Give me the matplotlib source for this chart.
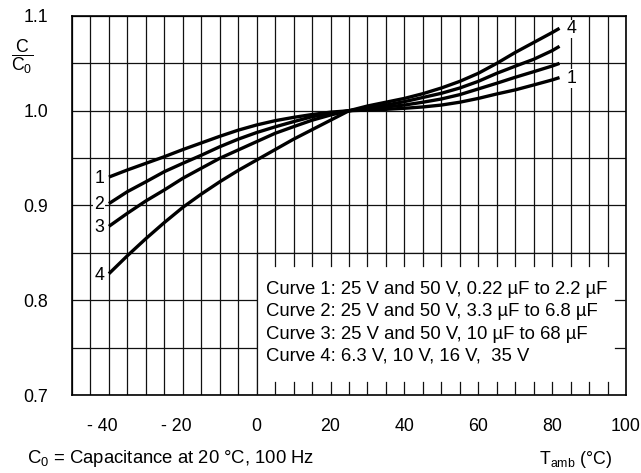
#!/usr/bin/env python3

import matplotlib
matplotlib.use("Agg")
import matplotlib.pyplot as plt
import matplotlib.transforms as mtransforms

plt.rcParams['font.family'] = ['Liberation Sans', 'DejaVu Sans']
plt.rcParams['mathtext.fontset'] = 'custom'
plt.rcParams['mathtext.rm'] = 'Liberation Sans'
plt.rcParams['mathtext.it'] = 'Liberation Sans'

# Ambient temperature (°C)
temps = [-40, -35, -30, -25, -20, -15, -10, -5, 0, 5, 10, 15, 20, 25,
         30, 35, 40, 45, 50, 55, 60, 65, 70, 75, 80, 82]

# C/C0 for each curve
curve1 = [0.930, 0.9375, 0.9445, 0.9515, 0.959, 0.966, 0.973, 0.9795, 0.985,
          0.9895, 0.993, 0.996, 0.9985, 1.000, 1.0007, 1.0015, 1.0026, 1.004,
          1.006, 1.009, 1.013, 1.0177, 1.022, 1.0272, 1.0325, 1.035]
curve2 = [0.902, 0.9146, 0.925, 0.9357, 0.9445, 0.953, 0.962, 0.970, 0.977,
          0.983, 0.9885, 0.9937, 0.997, 1.000, 1.002, 1.004, 1.006, 1.009,
          1.0124, 1.017, 1.023, 1.029, 1.0353, 1.0412, 1.0472, 1.050]
curve3 = [0.878, 0.8918, 0.9048, 0.9164, 0.9287, 0.9393, 0.9498, 0.9586,
          0.9674, 0.9762, 0.9832, 0.990, 0.9955, 1.000, 1.003, 1.006, 1.0096,
          1.014, 1.0184, 1.024, 1.031, 1.0395, 1.047, 1.0543, 1.0634, 1.068]
curve4 = [0.828, 0.847, 0.865, 0.882, 0.898, 0.912, 0.925, 0.937, 0.948,
          0.959, 0.970, 0.980, 0.990, 1.000, 1.005, 1.009, 1.013, 1.018,
          1.024, 1.031, 1.0395, 1.050, 1.0615, 1.072, 1.0825, 1.087]

curves = [curve1, curve2, curve3, curve4]
curveNames = ["1", "2", "3", "4"]

xTicks = [-40, -20, 0, 20, 40, 60, 80, 100]
xTickLabels = ["- 40", "- 20", "0", "20", "40", "60", "80", "100"]
yTicks = [0.7, 0.8, 0.9, 1.0, 1.1]
yTickLabels = ["0.7", "0.8", "0.9", "1.0", "1.1"]

legendLines = [
    "Curve 1: 25 V and 50 V, 0.22 \u00b5F to 2.2 \u00b5F",
    "Curve 2: 25 V and 50 V, 3.3 \u00b5F to 6.8 \u00b5F",
    "Curve 3: 25 V and 50 V, 10 \u00b5F to 68 \u00b5F",
    "Curve 4: 6.3 V, 10 V, 16 V,  35 V",
]

FS = 12.8
FS_TXT = 13.3
GRID = "#111111"

fig = plt.figure(figsize=(6.41, 4.73), dpi=100)
ax = fig.add_axes([0.1123, 0.1649, 0.8643, 0.8013])

ax.set_xlim(-50, 100)
ax.set_ylim(0.7, 1.1)

# Grid every 5 °C and every 0.05
ax.set_xticks([x for x in range(-50, 101, 5)], minor=True)
ax.set_yticks([0.7 + 0.05 * i for i in range(9)], minor=True)
ax.set_xticks(xTicks)
ax.set_xticklabels(xTickLabels)
ax.set_yticks(yTicks)
ax.set_yticklabels(yTickLabels)
ax.grid(which="both", color=GRID, linewidth=0.9, zorder=1)
ax.set_axisbelow(True)
ax.tick_params(which="both", length=0)
ax.tick_params(axis="x", pad=16.5, labelsize=FS)
ax.tick_params(axis="y", pad=17, labelsize=FS)
for sp in ax.spines.values():
    sp.set_linewidth(1.2)
    sp.set_color("black")

# shift "- 40" style labels so the number sits over the grid line
for lab in ax.get_xticklabels():
    if lab.get_text().startswith("-"):
        off = mtransforms.ScaledTranslation(-5 / 72, 0, fig.dpi_scale_trans)
        lab.set_transform(lab.get_transform() + off)

# White box for the curve descriptions
box = plt.Rectangle((0, 0.7), 100, 0.15, facecolor="white", edgecolor="none",
                    zorder=2)
ax.add_patch(box)
for x in range(5, 100, 5):
    ax.plot([x, x], [0.85, 0.85 - 0.0137], color=GRID, lw=0.9, zorder=3)
    ax.plot([x, x], [0.7, 0.7 + 0.0137], color=GRID, lw=0.9, zorder=3)
for y in [0.75, 0.8]:
    ax.plot([97, 100], [y, y], color=GRID, lw=0.9, zorder=3)
ax.plot([0, 0], [0.7, 0.85], color=GRID, lw=0.9, zorder=3)
ax.plot([0, 100], [0.85, 0.85], color=GRID, lw=0.9, zorder=3)

for i, line in enumerate(legendLines):
    ax.annotate(line, xy=(0, 0.85), xytext=(6.5, -26.3 - 16.06 * i),
                textcoords="offset points", fontsize=FS_TXT, va="center",
                ha="left", zorder=4)

# Curves
for c in curves:
    ax.plot(temps, c, color="black", lw=2.4, zorder=5, solid_capstyle="butt")

labelStyle = dict(fontsize=FS, ha="center", va="center", zorder=6,
                  bbox=dict(facecolor="white", edgecolor="none", pad=0.6))
for name, c in zip(curveNames, curves):
    ax.annotate(name, xy=(temps[0], c[0]), xytext=(-7, -1),
                textcoords="offset points", **labelStyle)
ax.annotate(curveNames[3], xy=(temps[-1], curve4[-1]), xytext=(8.6, -0.5),
            textcoords="offset points", **labelStyle)
ax.annotate(curveNames[0], xy=(temps[-1], curve1[-1]), xytext=(8.6, -0.5),
            textcoords="offset points", **labelStyle)

# Axis label texts
fig.text(22 / 641, 1 - 57 / 473, r"$\dfrac{\mathrm{C}}{\mathrm{C_0}}$",
         fontsize=FS, ha="center", va="center")
fig.text(27 / 641, 1 - 458 / 473, r"C$_\mathrm{0}$ = Capacitance at 20 °C, 100 Hz",
         fontsize=FS_TXT, ha="left", va="center")
fig.text(612 / 641, 1 - 459 / 473, r"T$_\mathrm{amb}$ (°C)",
         fontsize=FS, ha="right", va="center")

fig.savefig("out.png", dpi=100)
